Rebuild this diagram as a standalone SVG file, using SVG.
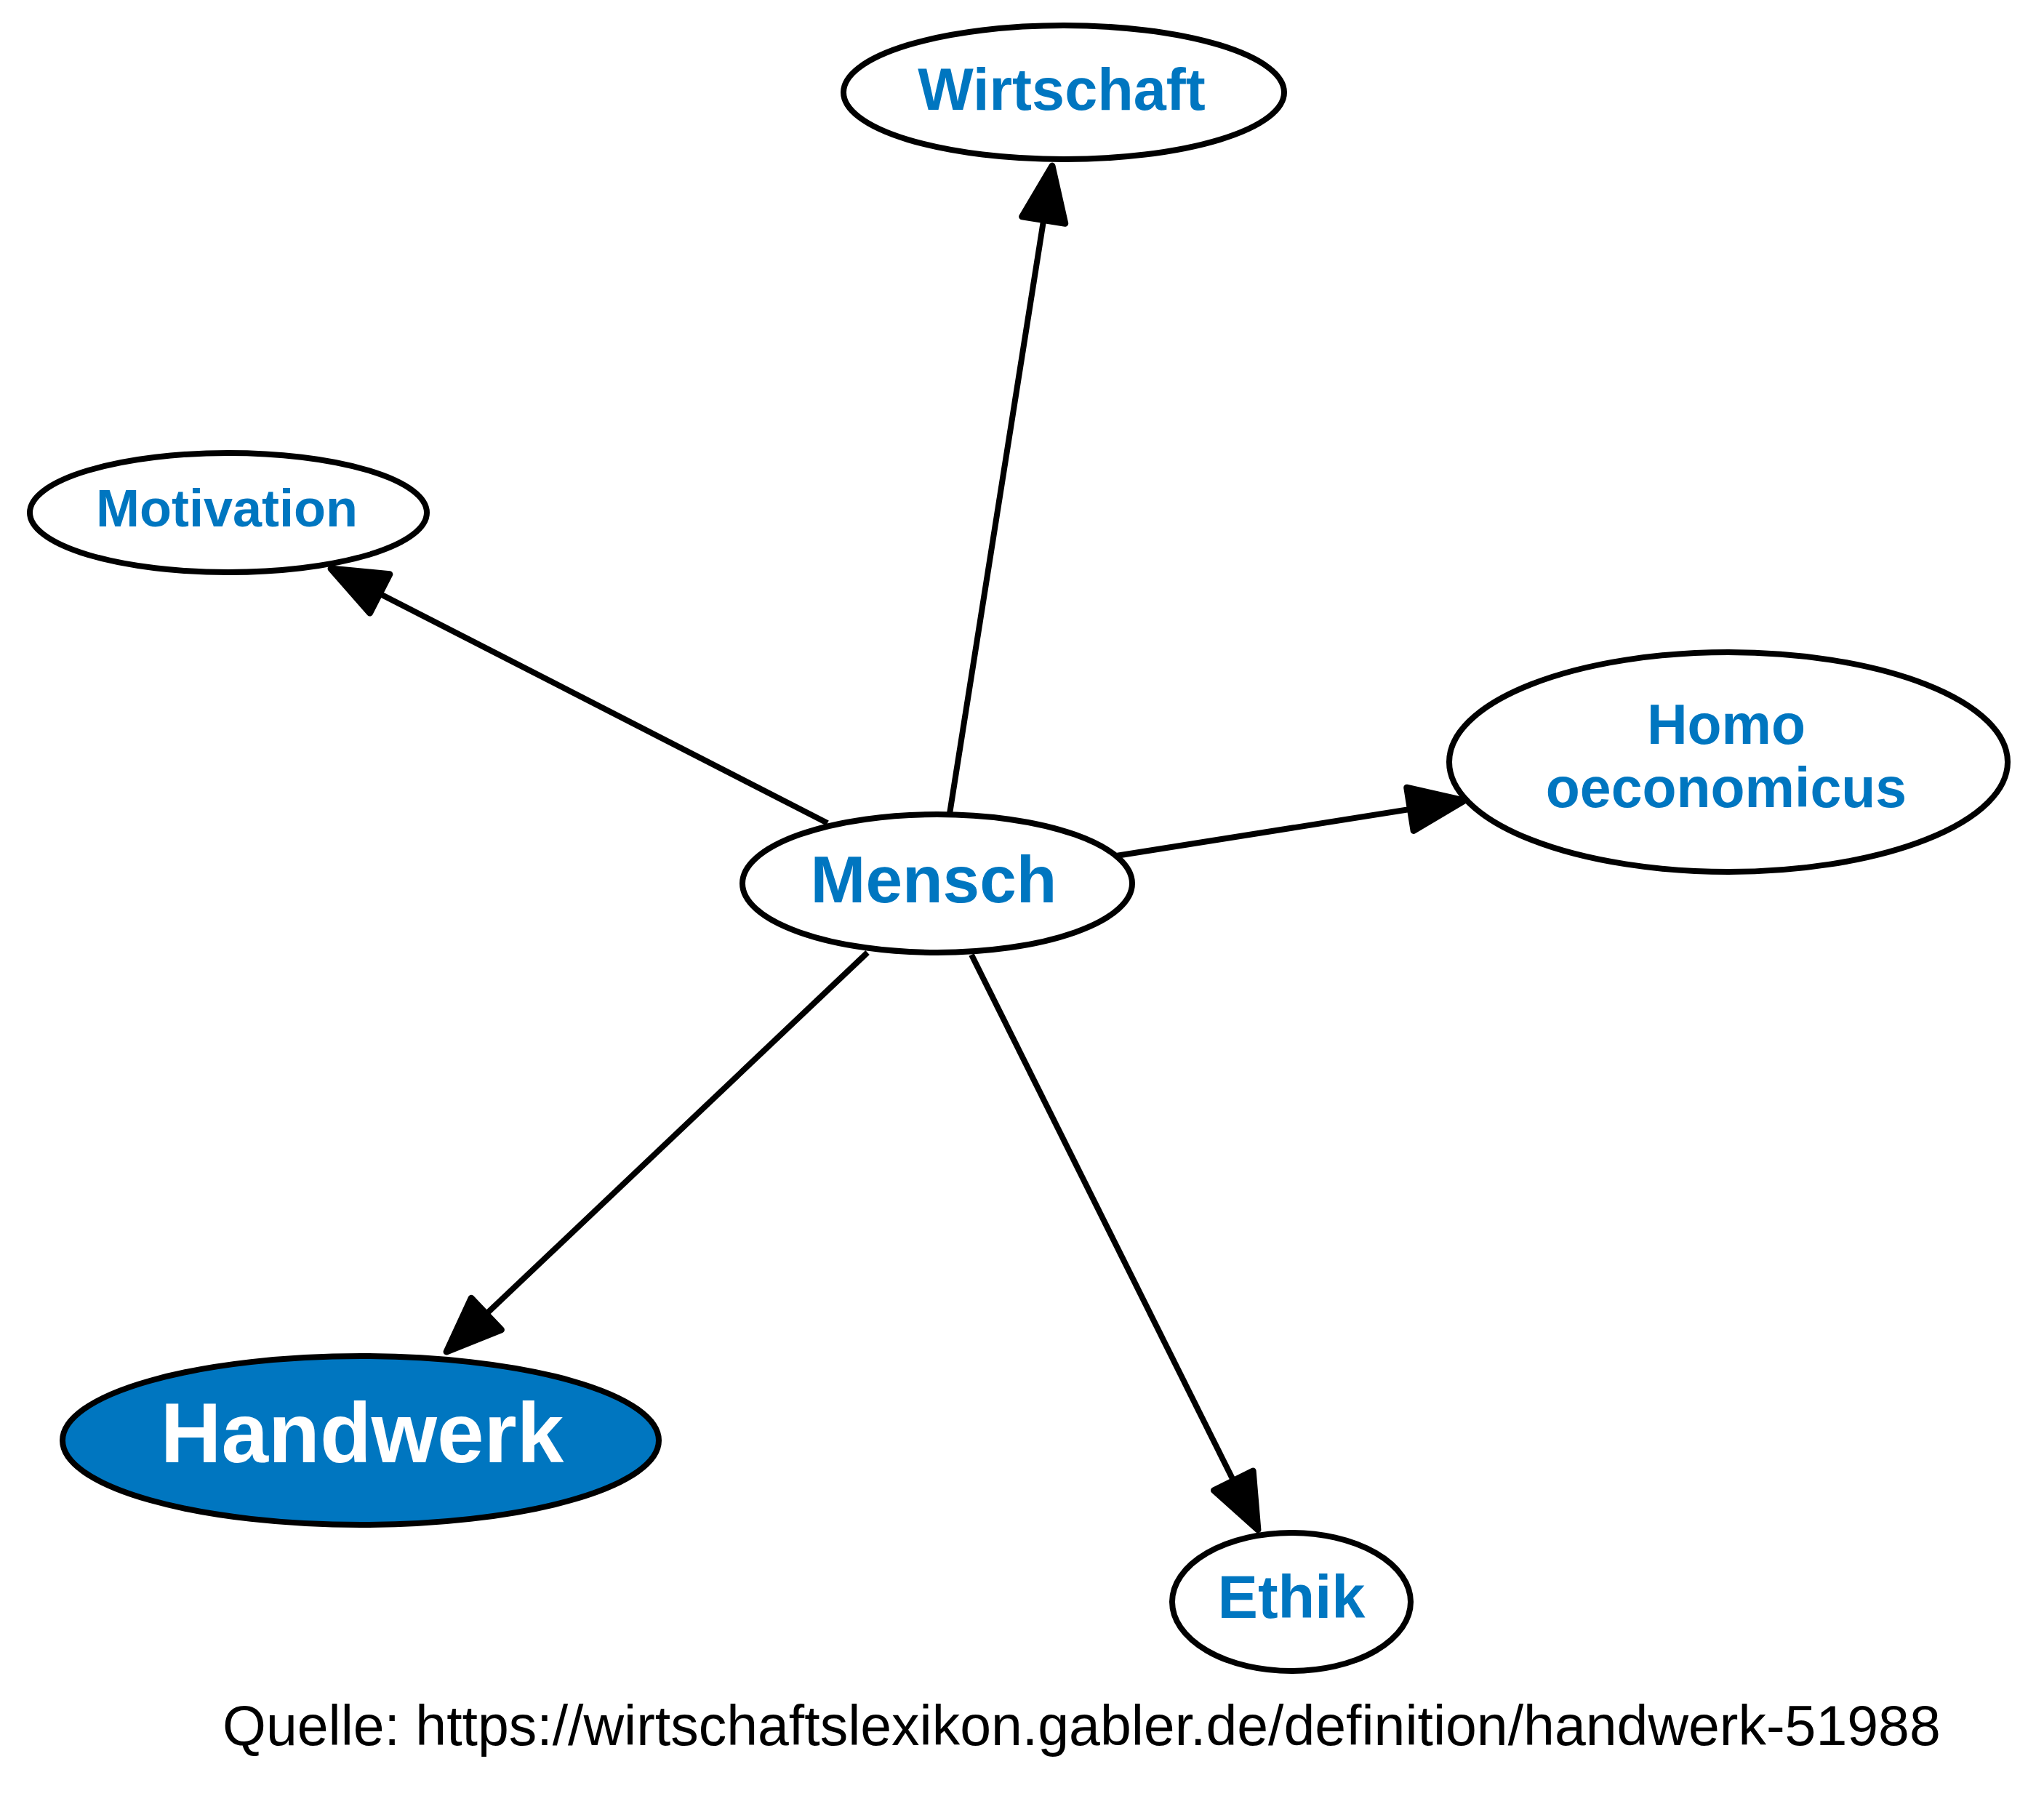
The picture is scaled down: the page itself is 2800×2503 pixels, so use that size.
<svg xmlns="http://www.w3.org/2000/svg" width="2800" height="2503" viewBox="0 0 2800 2503">
<style>
.node ellipse{stroke:#000;stroke-width:8;fill:#fff}
.node text{font-family:"Liberation Sans",Arial,sans-serif;font-weight:bold;fill:#0076c0;text-anchor:middle}
#n-handwerk ellipse{fill:#0076c0}
#n-handwerk text{fill:#fff}
.edge{stroke:#000;stroke-width:8;fill:none;marker-end:url(#arrow)}
.src{font-family:"Liberation Sans",Arial,sans-serif;font-size:77px;fill:#000}
</style>
<defs>
<marker id="arrow" markerUnits="userSpaceOnUse" orient="auto" refX="68" refY="0" markerWidth="90" markerHeight="80" viewBox="-5 -36 80 72" overflow="visible">
<path d="M0,-27 L68,0 L0,27 Z" fill="#000" stroke="#000" stroke-width="8" stroke-linejoin="round"/>
</marker>
</defs>
<rect width="2800" height="2503" fill="#fff"/>
<g id="connectors">
<line class="edge" x1="1306" y1="1119" x2="1447" y2="228"/>
<line class="edge" x1="1138" y1="1132" x2="455" y2="782"/>
<line class="edge" x1="1535" y1="1177" x2="2014" y2="1101"/>
<line class="edge" x1="1193" y1="1310" x2="614" y2="1859"/>
<line class="edge" x1="1336" y1="1313" x2="1730" y2="2104"/>
</g>
<g id="n-wirtschaft" class="node">
<ellipse cx="1463" cy="127" rx="303" ry="92"/>
<text x="1460" y="151" font-size="81">Wirtschaft</text>
</g>
<g id="n-motivation" class="node">
<ellipse cx="314" cy="705" rx="273" ry="82"/>
<text x="312" y="724" font-size="72">Motivation</text>
</g>
<g id="n-homo" class="node">
<ellipse cx="2377" cy="1048" rx="384" ry="151"/>
<text x="2374" y="1023" font-size="77">Homo</text>
<text x="2374" y="1110" font-size="77">oeconomicus</text>
</g>
<g id="n-mensch" class="node">
<ellipse cx="1289" cy="1215" rx="268" ry="95"/>
<text x="1284" y="1241" font-size="91">Mensch</text>
</g>
<g id="n-handwerk" class="node">
<ellipse cx="496" cy="1981" rx="410" ry="116"/>
<text x="498" y="2011" font-size="116">Handwerk</text>
</g>
<g id="n-ethik" class="node">
<ellipse cx="1776" cy="2203" rx="164" ry="95"/>
<text x="1776" y="2225" font-size="83">Ethik</text>
</g>
<text class="src" x="306" y="2400">Quelle: https://wirtschaftslexikon.gabler.de/definition/handwerk-51988</text>
</svg>
